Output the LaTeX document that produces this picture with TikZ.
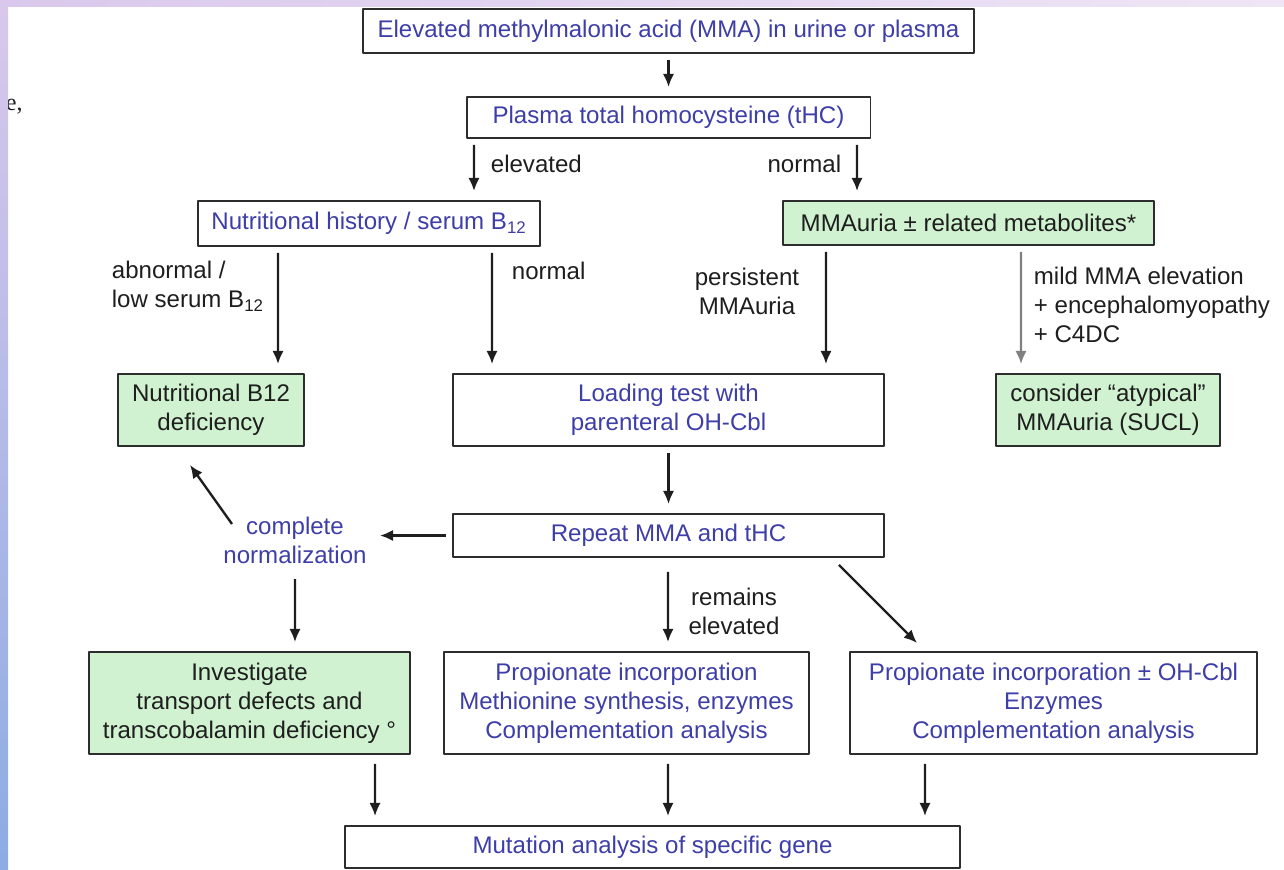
\documentclass[tikz,border=0pt]{standalone}
\usepackage{fontspec}
\setmainfont{Liberation Sans}
\newfontfamily\fragfont{Liberation Serif}
\usetikzlibrary{arrows.meta}
\definecolor{boxtext}{RGB}{62,62,168}
\definecolor{lbltext}{RGB}{30,30,30}
\definecolor{boxgreen}{RGB}{208,242,208}
\definecolor{boxline}{RGB}{45,45,45}
\definecolor{stripA}{RGB}{218,200,236}
\definecolor{stripB}{RGB}{140,172,226}
\definecolor{stripC}{RGB}{238,230,246}

\begin{document}
\begin{tikzpicture}[x=0.02cm,y=-0.02cm,line join=round,line width=1pt,
    font=\fontsize{13.7}{16.5}\selectfont,
    box/.style={draw=boxline,line width=1.1pt,fill=white,inner sep=0pt,align=center,text=boxtext},
    gbox/.style={box,fill=boxgreen,text=lbltext},
    lbl/.style={text=lbltext,inner sep=0pt},
    arr/.style={-{Latex[length=7.5pt,width=6.5pt]},line width=1.35pt,draw=lbltext,shorten <=0.12cm,shorten >=0.18cm}]
  \useasboundingbox (0,0) rectangle (1284,869);
  % cut-off text at the left edge
  \node[anchor=base west,inner sep=0pt,text=lbltext] (frag) at (5,110) {\fragfont e,};
  \shade[left color=stripA,right color=stripC] (0,0) rectangle (1284,6);
  \shade[top color=stripA,bottom color=stripB] (0,0) rectangle (8,869);

  % boxes
  \node[box,minimum width=12.24cm,minimum height=0.88cm] (mma) at (668.5,31) {Elevated methylmalonic acid (MMA) in urine or plasma};
  \node[box,minimum width=8.08cm,minimum height=0.82cm] (thc) at (668.5,117.5) {Plasma total homocysteine (tHC)};
  \node[box,minimum width=6.84cm,minimum height=0.9cm] (nutr) at (369,223.5) {Nutritional history / serum B\textsubscript{12}};
  \node[gbox,minimum width=7.42cm,minimum height=0.88cm] (mmauria) at (968.5,223) {MMAuria ± related metabolites*};
  \node[gbox,minimum width=3.72cm,minimum height=1.44cm] (defic) at (211,410) {Nutritional B12\\deficiency};
  \node[box,minimum width=8.62cm,minimum height=1.44cm] (loading) at (668.5,410) {Loading test with\\parenteral OH-Cbl};
  \node[gbox,minimum width=4.48cm,minimum height=1.44cm] (atyp) at (1108,410) {consider “atypical”\\MMAuria (SUCL)};
  \node[box,minimum width=8.62cm,minimum height=0.86cm] (repeat) at (668.5,535.5) {Repeat MMA and tHC};
  \node[lbl,text=boxtext,align=center,inner sep=2pt] (norm) at (295,540) {complete\\normalization};
  \node[gbox,minimum width=6.42cm,minimum height=2.04cm] (invest) at (249.5,703) {Investigate\\transport defects and\\transcobalamin deficiency °};
  \node[box,minimum width=7.3cm,minimum height=2.04cm] (propA) at (626.5,703) {Propionate incorporation\\Methionine synthesis, enzymes\\Complementation analysis};
  \node[box,minimum width=8.14cm,minimum height=2.04cm] (propB) at (1053.5,703) {Propionate incorporation ± OH-Cbl\\Enzymes\\Complementation analysis};
  \node[box,minimum width=12.3cm,minimum height=0.84cm] (mutation) at (652.5,847) {Mutation analysis of specific gene};

  % labels
  \node[lbl,anchor=west] (elev) at (490,164) {elevated};
  \node[lbl,anchor=east] (normA) at (842,164) {normal};
  \node[lbl,anchor=west,align=left] (abn) at (111,286) {abnormal /\\low serum B\textsubscript{12}};
  \node[lbl,anchor=west] (normB) at (511,271) {normal};
  \node[lbl,align=center] (pers) at (747,291) {persistent\\MMAuria};
  \node[lbl,anchor=west,align=left] (mild) at (1033,305) {mild MMA elevation\\+ encephalomyopathy\\+ C4DC};
  \node[lbl,align=center] (remain) at (734,611) {remains\\elevated};

  % arrows
  \draw[arr] (mma) -- (thc);
  \draw[arr] ([xshift=-3.89cm]thc.south) -- ([xshift=2.1cm]nutr.north);
  \draw[arr] ([xshift=3.77cm]thc.south) -- ([xshift=-2.23cm]mmauria.north);
  \draw[arr] ([xshift=-1.82cm]nutr.south) -- ([xshift=1.34cm]defic.north);
  \draw[arr] ([xshift=2.46cm]nutr.south) -- ([xshift=-3.53cm]loading.north);
  \draw[arr] ([xshift=-2.85cm]mmauria.south) -- ([xshift=3.15cm]loading.north);
  \draw[arr,draw=gray] ([xshift=1.05cm]mmauria.south) -- ([xshift=-1.74cm]atyp.north);
  \draw[arr] (loading) -- (repeat);
  \draw[arr] (repeat.west) -- (repeat.west -| norm.east);
  \draw[arr,shorten <=0pt,shorten >=0pt] ([shift={(-1.26cm,0.32cm)}]norm.center) -- ([shift={(-0.42cm,-0.36cm)}]defic.south);
  \draw[arr,shorten <=0pt] ([yshift=-0.78cm]norm.center) -- ([xshift=0.91cm]invest.north);
  \draw[arr,shorten <=0.28cm] ([xshift=-0.01cm]repeat.south) -- ([xshift=0.83cm]propA.north);
  \draw[arr,shorten <=0pt,shorten >=0pt] ([shift={(-0.92cm,-0.14cm)}]repeat.south east) -- ([shift={(-2.73cm,0.16cm)}]propB.north);
  \draw[arr,shorten <=0.18cm] ([xshift=2.51cm]invest.south) -- ([xshift=-5.55cm]mutation.north);
  \draw[arr,shorten <=0.18cm] ([xshift=0.83cm]propA.south) -- ([xshift=0.31cm]mutation.north);
  \draw[arr,shorten <=0.18cm] ([xshift=-2.57cm]propB.south) -- ([xshift=5.45cm]mutation.north);
\end{tikzpicture}
\end{document}
